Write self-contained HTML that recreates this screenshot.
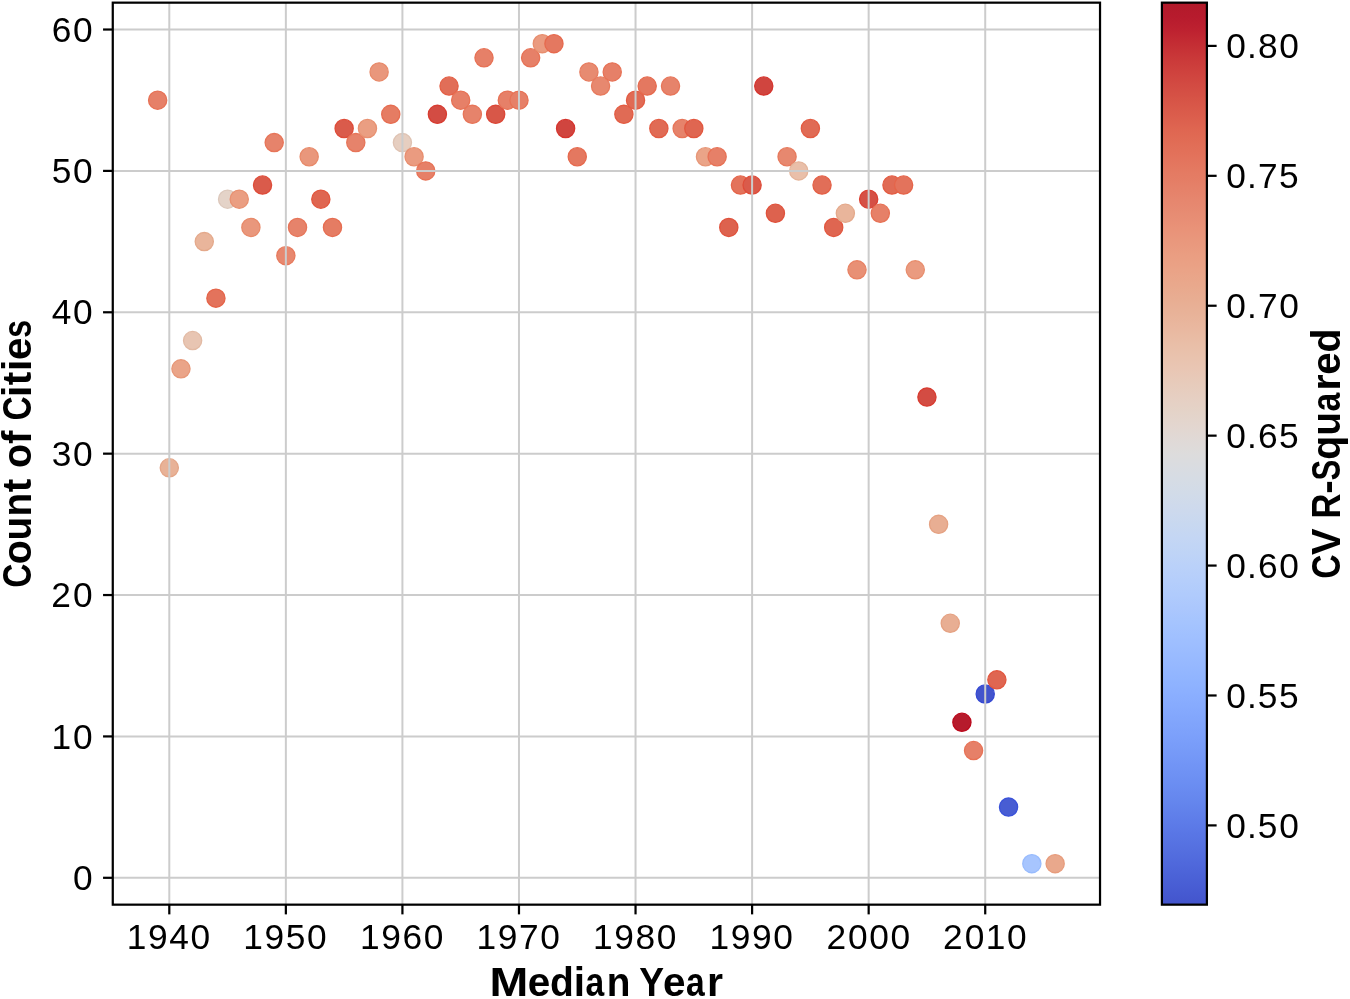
<!DOCTYPE html><html><head><meta charset="utf-8"><style>html,body{margin:0;padding:0;background:#fff;}svg{display:block;will-change:transform;}text{font-family:"Liberation Sans",sans-serif;}</style></head><body>
<svg width="1350" height="999" viewBox="0 0 1350 999">
<rect x="0" y="0" width="1350" height="999" fill="#fff"/>
<g>
<circle cx="157.64" cy="100.21" r="9.10" fill="#e68068" stroke="#e77256" stroke-width="1.3"/>
<circle cx="169.30" cy="467.80" r="9.10" fill="#e8b297" stroke="#e4a688" stroke-width="1.3"/>
<circle cx="180.96" cy="368.83" r="9.10" fill="#eaa488" stroke="#e79778" stroke-width="1.3"/>
<circle cx="192.61" cy="340.56" r="9.10" fill="#e8c5b2" stroke="#e2baa4" stroke-width="1.3"/>
<circle cx="204.27" cy="241.59" r="9.10" fill="#e9b59b" stroke="#e4a98b" stroke-width="1.3"/>
<circle cx="215.92" cy="298.14" r="9.10" fill="#e3735c" stroke="#e5654a" stroke-width="1.3"/>
<circle cx="227.58" cy="199.18" r="9.10" fill="#e4d3c8" stroke="#dcc8bc" stroke-width="1.3"/>
<circle cx="239.24" cy="199.18" r="9.10" fill="#ea9e82" stroke="#e89171" stroke-width="1.3"/>
<circle cx="250.89" cy="227.45" r="9.10" fill="#e9977c" stroke="#e88a6a" stroke-width="1.3"/>
<circle cx="262.55" cy="185.04" r="9.10" fill="#da5b4b" stroke="#de4c39" stroke-width="1.3"/>
<circle cx="274.20" cy="142.62" r="9.10" fill="#e6836b" stroke="#e77559" stroke-width="1.3"/>
<circle cx="285.86" cy="255.73" r="9.10" fill="#e7886f" stroke="#e77a5d" stroke-width="1.3"/>
<circle cx="297.52" cy="227.45" r="9.10" fill="#e6836b" stroke="#e77559" stroke-width="1.3"/>
<circle cx="309.17" cy="156.76" r="9.10" fill="#e9977c" stroke="#e88a6a" stroke-width="1.3"/>
<circle cx="320.83" cy="199.18" r="9.10" fill="#df6651" stroke="#e2573f" stroke-width="1.3"/>
<circle cx="332.48" cy="227.45" r="9.10" fill="#e57c63" stroke="#e66d51" stroke-width="1.3"/>
<circle cx="344.14" cy="128.49" r="9.10" fill="#da5b4b" stroke="#de4c39" stroke-width="1.3"/>
<circle cx="355.80" cy="142.62" r="9.10" fill="#e6836b" stroke="#e77559" stroke-width="1.3"/>
<circle cx="367.45" cy="128.49" r="9.10" fill="#ea9e82" stroke="#e89171" stroke-width="1.3"/>
<circle cx="379.11" cy="71.93" r="9.10" fill="#e9977c" stroke="#e88a6a" stroke-width="1.3"/>
<circle cx="390.76" cy="114.35" r="9.10" fill="#e57c63" stroke="#e66d51" stroke-width="1.3"/>
<circle cx="402.42" cy="142.62" r="9.10" fill="#e6cec0" stroke="#dfc3b3" stroke-width="1.3"/>
<circle cx="414.08" cy="156.76" r="9.10" fill="#ea9b80" stroke="#e88e6e" stroke-width="1.3"/>
<circle cx="425.73" cy="170.90" r="9.10" fill="#e68068" stroke="#e77256" stroke-width="1.3"/>
<circle cx="437.39" cy="114.35" r="9.10" fill="#d34c43" stroke="#d83c31" stroke-width="1.3"/>
<circle cx="449.04" cy="86.07" r="9.10" fill="#e16e58" stroke="#e46046" stroke-width="1.3"/>
<circle cx="460.70" cy="100.21" r="9.10" fill="#e68068" stroke="#e77256" stroke-width="1.3"/>
<circle cx="472.36" cy="114.35" r="9.10" fill="#e6836b" stroke="#e77559" stroke-width="1.3"/>
<circle cx="484.01" cy="57.80" r="9.10" fill="#e68068" stroke="#e77256" stroke-width="1.3"/>
<circle cx="495.67" cy="114.35" r="9.10" fill="#d85748" stroke="#dc4737" stroke-width="1.3"/>
<circle cx="507.32" cy="100.21" r="9.10" fill="#e68068" stroke="#e77256" stroke-width="1.3"/>
<circle cx="518.98" cy="100.21" r="9.10" fill="#e68068" stroke="#e77256" stroke-width="1.3"/>
<circle cx="530.64" cy="57.80" r="9.10" fill="#e68068" stroke="#e77256" stroke-width="1.3"/>
<circle cx="542.29" cy="43.66" r="9.10" fill="#ea9b80" stroke="#e88e6e" stroke-width="1.3"/>
<circle cx="553.95" cy="43.66" r="9.10" fill="#e47860" stroke="#e66a4e" stroke-width="1.3"/>
<circle cx="565.60" cy="128.49" r="9.10" fill="#d0453f" stroke="#d5352e" stroke-width="1.3"/>
<circle cx="577.26" cy="156.76" r="9.10" fill="#e47860" stroke="#e66a4e" stroke-width="1.3"/>
<circle cx="588.92" cy="71.93" r="9.10" fill="#e78b71" stroke="#e77d60" stroke-width="1.3"/>
<circle cx="600.57" cy="86.07" r="9.10" fill="#e7886f" stroke="#e77a5d" stroke-width="1.3"/>
<circle cx="612.23" cy="71.93" r="9.10" fill="#e68068" stroke="#e77256" stroke-width="1.3"/>
<circle cx="623.88" cy="114.35" r="9.10" fill="#e06b55" stroke="#e35c43" stroke-width="1.3"/>
<circle cx="635.54" cy="100.21" r="9.10" fill="#e06b55" stroke="#e35c43" stroke-width="1.3"/>
<circle cx="647.20" cy="86.07" r="9.10" fill="#e47860" stroke="#e66a4e" stroke-width="1.3"/>
<circle cx="658.85" cy="128.49" r="9.10" fill="#e06b55" stroke="#e35c43" stroke-width="1.3"/>
<circle cx="670.51" cy="86.07" r="9.10" fill="#e6836b" stroke="#e77559" stroke-width="1.3"/>
<circle cx="682.16" cy="128.49" r="9.10" fill="#e6836b" stroke="#e77559" stroke-width="1.3"/>
<circle cx="693.82" cy="128.49" r="9.10" fill="#df6651" stroke="#e2573f" stroke-width="1.3"/>
<circle cx="705.48" cy="156.76" r="9.10" fill="#eaa488" stroke="#e79778" stroke-width="1.3"/>
<circle cx="717.13" cy="156.76" r="9.10" fill="#e68068" stroke="#e77256" stroke-width="1.3"/>
<circle cx="728.79" cy="227.45" r="9.10" fill="#dd624e" stroke="#e0523c" stroke-width="1.3"/>
<circle cx="740.44" cy="185.04" r="9.10" fill="#e3735c" stroke="#e5654a" stroke-width="1.3"/>
<circle cx="752.10" cy="185.04" r="9.10" fill="#da5b4b" stroke="#de4c39" stroke-width="1.3"/>
<circle cx="763.76" cy="86.07" r="9.10" fill="#d0453f" stroke="#d5352e" stroke-width="1.3"/>
<circle cx="775.41" cy="213.31" r="9.10" fill="#dd624e" stroke="#e0523c" stroke-width="1.3"/>
<circle cx="787.07" cy="156.76" r="9.10" fill="#e7886f" stroke="#e77a5d" stroke-width="1.3"/>
<circle cx="798.72" cy="170.90" r="9.10" fill="#e9bfa9" stroke="#e4b49a" stroke-width="1.3"/>
<circle cx="810.38" cy="128.49" r="9.10" fill="#e06b55" stroke="#e35c43" stroke-width="1.3"/>
<circle cx="822.04" cy="185.04" r="9.10" fill="#e16e58" stroke="#e46046" stroke-width="1.3"/>
<circle cx="833.69" cy="227.45" r="9.10" fill="#df6651" stroke="#e2573f" stroke-width="1.3"/>
<circle cx="845.35" cy="213.31" r="9.10" fill="#e9b59b" stroke="#e4a98b" stroke-width="1.3"/>
<circle cx="857.00" cy="269.87" r="9.10" fill="#e89075" stroke="#e88264" stroke-width="1.3"/>
<circle cx="868.66" cy="199.18" r="9.10" fill="#d55045" stroke="#da4133" stroke-width="1.3"/>
<circle cx="880.32" cy="213.31" r="9.10" fill="#e68068" stroke="#e77256" stroke-width="1.3"/>
<circle cx="891.97" cy="185.04" r="9.10" fill="#e06b55" stroke="#e35c43" stroke-width="1.3"/>
<circle cx="903.63" cy="185.04" r="9.10" fill="#e3735c" stroke="#e5654a" stroke-width="1.3"/>
<circle cx="915.28" cy="269.87" r="9.10" fill="#ea9b80" stroke="#e88e6e" stroke-width="1.3"/>
<circle cx="926.94" cy="397.11" r="9.10" fill="#d34c43" stroke="#d83c31" stroke-width="1.3"/>
<circle cx="938.60" cy="524.35" r="9.10" fill="#e8ae93" stroke="#e5a283" stroke-width="1.3"/>
<circle cx="950.25" cy="623.32" r="9.10" fill="#e8ae93" stroke="#e5a283" stroke-width="1.3"/>
<circle cx="961.91" cy="722.28" r="9.10" fill="#b61b2c" stroke="#bc0a1d" stroke-width="1.3"/>
<circle cx="973.56" cy="750.56" r="9.10" fill="#e68068" stroke="#e77256" stroke-width="1.3"/>
<circle cx="985.22" cy="694.01" r="9.10" fill="#4354cc" stroke="#3549d3" stroke-width="1.3"/>
<circle cx="996.88" cy="679.87" r="9.10" fill="#df6651" stroke="#e2573f" stroke-width="1.3"/>
<circle cx="1008.53" cy="807.11" r="9.10" fill="#485dd3" stroke="#3a52d9" stroke-width="1.3"/>
<circle cx="1031.84" cy="863.66" r="9.10" fill="#a7c5fe" stroke="#98bbfd" stroke-width="1.3"/>
<circle cx="1055.16" cy="863.66" r="9.10" fill="#e9a88c" stroke="#e79c7c" stroke-width="1.3"/>
</g>
<g stroke="#cccccc" stroke-width="2.00">
<line x1="169.30" y1="2.66" x2="169.30" y2="904.66"/>
<line x1="285.86" y1="2.66" x2="285.86" y2="904.66"/>
<line x1="402.42" y1="2.66" x2="402.42" y2="904.66"/>
<line x1="518.98" y1="2.66" x2="518.98" y2="904.66"/>
<line x1="635.54" y1="2.66" x2="635.54" y2="904.66"/>
<line x1="752.10" y1="2.66" x2="752.10" y2="904.66"/>
<line x1="868.66" y1="2.66" x2="868.66" y2="904.66"/>
<line x1="985.22" y1="2.66" x2="985.22" y2="904.66"/>
<line x1="112.77" y1="877.80" x2="1100.03" y2="877.80"/>
<line x1="112.77" y1="736.42" x2="1100.03" y2="736.42"/>
<line x1="112.77" y1="595.04" x2="1100.03" y2="595.04"/>
<line x1="112.77" y1="453.66" x2="1100.03" y2="453.66"/>
<line x1="112.77" y1="312.28" x2="1100.03" y2="312.28"/>
<line x1="112.77" y1="170.90" x2="1100.03" y2="170.90"/>
<line x1="112.77" y1="29.52" x2="1100.03" y2="29.52"/>
</g>
<g stroke="#000" stroke-width="2.22" fill="none">
<rect x="112.77" y="2.66" width="987.26" height="902.00" stroke-linejoin="miter" stroke-linecap="square"/>
<line x1="169.30" y1="904.66" x2="169.30" y2="914.38"/>
<line x1="285.86" y1="904.66" x2="285.86" y2="914.38"/>
<line x1="402.42" y1="904.66" x2="402.42" y2="914.38"/>
<line x1="518.98" y1="904.66" x2="518.98" y2="914.38"/>
<line x1="635.54" y1="904.66" x2="635.54" y2="914.38"/>
<line x1="752.10" y1="904.66" x2="752.10" y2="914.38"/>
<line x1="868.66" y1="904.66" x2="868.66" y2="914.38"/>
<line x1="985.22" y1="904.66" x2="985.22" y2="914.38"/>
<line x1="103.05" y1="877.80" x2="112.77" y2="877.80"/>
<line x1="103.05" y1="736.42" x2="112.77" y2="736.42"/>
<line x1="103.05" y1="595.04" x2="112.77" y2="595.04"/>
<line x1="103.05" y1="453.66" x2="112.77" y2="453.66"/>
<line x1="103.05" y1="312.28" x2="112.77" y2="312.28"/>
<line x1="103.05" y1="170.90" x2="112.77" y2="170.90"/>
<line x1="103.05" y1="29.52" x2="112.77" y2="29.52"/>
</g>
<g font-size="35.30" fill="#000">
<text x="126.76 148.04 169.35 190.56" y="948.80">1940</text>
<text x="243.32 264.60 285.79 307.12" y="948.80">1950</text>
<text x="359.88 381.16 402.48 423.68" y="948.80">1960</text>
<text x="476.44 497.72 518.97 540.24" y="948.80">1970</text>
<text x="593.00 614.28 635.59 656.80" y="948.80">1980</text>
<text x="709.56 730.84 752.05 773.36" y="948.80">1990</text>
<text x="826.47 848.12 869.32 890.53" y="948.80">2000</text>
<text x="943.03 964.68 985.70 1007.09" y="948.80">2010</text>
<text x="72.99" y="889.95">0</text>
<text x="51.60 72.99" y="748.57">10</text>
<text x="51.34 72.99" y="607.19">20</text>
<text x="51.83 72.99" y="465.81">30</text>
<text x="51.78 72.99" y="324.43">40</text>
<text x="51.65 72.99" y="183.05">50</text>
<text x="51.78 72.99" y="41.67">60</text>
</g>
<defs><linearGradient id="cbg" x1="0" y1="1" x2="0" y2="0">
<stop offset="0.0000" stop-color="#4354cc"/>
<stop offset="0.0156" stop-color="#475bd2"/>
<stop offset="0.0312" stop-color="#4b62d7"/>
<stop offset="0.0469" stop-color="#5069dc"/>
<stop offset="0.0625" stop-color="#5570e0"/>
<stop offset="0.0781" stop-color="#5976e5"/>
<stop offset="0.0938" stop-color="#5e7de9"/>
<stop offset="0.1094" stop-color="#6384ec"/>
<stop offset="0.1250" stop-color="#688af0"/>
<stop offset="0.1406" stop-color="#6d90f3"/>
<stop offset="0.1562" stop-color="#7295f6"/>
<stop offset="0.1719" stop-color="#779bf8"/>
<stop offset="0.1875" stop-color="#7ca0fb"/>
<stop offset="0.2031" stop-color="#81a5fc"/>
<stop offset="0.2188" stop-color="#86aafe"/>
<stop offset="0.2344" stop-color="#8bafff"/>
<stop offset="0.2500" stop-color="#90b4ff"/>
<stop offset="0.2656" stop-color="#96b8ff"/>
<stop offset="0.2812" stop-color="#9bbcff"/>
<stop offset="0.2969" stop-color="#a0c0ff"/>
<stop offset="0.3125" stop-color="#a5c4fe"/>
<stop offset="0.3281" stop-color="#abc7fd"/>
<stop offset="0.3438" stop-color="#b0cbfc"/>
<stop offset="0.3594" stop-color="#b5cefb"/>
<stop offset="0.3750" stop-color="#bad1f9"/>
<stop offset="0.3906" stop-color="#bfd4f6"/>
<stop offset="0.4062" stop-color="#c4d6f4"/>
<stop offset="0.4219" stop-color="#c8d8f0"/>
<stop offset="0.4375" stop-color="#cdd9ed"/>
<stop offset="0.4531" stop-color="#d1dbe9"/>
<stop offset="0.4688" stop-color="#d5dce5"/>
<stop offset="0.4844" stop-color="#d9dce1"/>
<stop offset="0.5000" stop-color="#dddcdc"/>
<stop offset="0.5156" stop-color="#e0d9d6"/>
<stop offset="0.5312" stop-color="#e3d6cf"/>
<stop offset="0.5469" stop-color="#e4d3c8"/>
<stop offset="0.5625" stop-color="#e6cfc2"/>
<stop offset="0.5781" stop-color="#e7cbbb"/>
<stop offset="0.5938" stop-color="#e9c6b4"/>
<stop offset="0.6094" stop-color="#e9c2ad"/>
<stop offset="0.6250" stop-color="#e9bda6"/>
<stop offset="0.6406" stop-color="#e9b79f"/>
<stop offset="0.6562" stop-color="#e8b298"/>
<stop offset="0.6719" stop-color="#e8ad92"/>
<stop offset="0.6875" stop-color="#e9a88c"/>
<stop offset="0.7031" stop-color="#eaa387"/>
<stop offset="0.7188" stop-color="#ea9e82"/>
<stop offset="0.7344" stop-color="#e9987d"/>
<stop offset="0.7500" stop-color="#e99278"/>
<stop offset="0.7656" stop-color="#e78c73"/>
<stop offset="0.7812" stop-color="#e6866e"/>
<stop offset="0.7969" stop-color="#e58068"/>
<stop offset="0.8125" stop-color="#e47a62"/>
<stop offset="0.8281" stop-color="#e3735c"/>
<stop offset="0.8438" stop-color="#e16d56"/>
<stop offset="0.8594" stop-color="#df6651"/>
<stop offset="0.8750" stop-color="#db5d4c"/>
<stop offset="0.8906" stop-color="#d75547"/>
<stop offset="0.9062" stop-color="#d34c43"/>
<stop offset="0.9219" stop-color="#cf433e"/>
<stop offset="0.9375" stop-color="#ca3939"/>
<stop offset="0.9531" stop-color="#c42e34"/>
<stop offset="0.9688" stop-color="#be2230"/>
<stop offset="0.9844" stop-color="#b71b2d"/>
<stop offset="1.0000" stop-color="#b21a2a"/>
</linearGradient></defs>
<rect x="1161.90" y="2.66" width="45.00" height="902.00" fill="url(#cbg)" stroke="#000" stroke-width="2.22"/>
<g stroke="#000" stroke-width="2.22">
<line x1="1206.90" y1="825.40" x2="1216.62" y2="825.40"/>
<line x1="1206.90" y1="695.48" x2="1216.62" y2="695.48"/>
<line x1="1206.90" y1="565.57" x2="1216.62" y2="565.57"/>
<line x1="1206.90" y1="435.65" x2="1216.62" y2="435.65"/>
<line x1="1206.90" y1="305.73" x2="1216.62" y2="305.73"/>
<line x1="1206.90" y1="175.82" x2="1216.62" y2="175.82"/>
<line x1="1206.90" y1="45.90" x2="1216.62" y2="45.90"/>
</g>
<g font-size="35.30" fill="#000">
<text x="1226.18 1246.99 1257.85 1279.19" y="837.55">0.50</text>
<text x="1226.18 1246.99 1257.85 1279.06" y="707.63">0.55</text>
<text x="1226.18 1246.99 1257.98 1279.19" y="577.72">0.60</text>
<text x="1226.18 1246.99 1257.98 1279.06" y="447.80">0.65</text>
<text x="1226.18 1246.99 1257.92 1279.19" y="317.88">0.70</text>
<text x="1226.18 1246.99 1257.92 1279.06" y="187.97">0.75</text>
<text x="1226.18 1246.99 1257.98 1279.19" y="58.05">0.80</text>
</g>
<g font-weight="bold" font-size="40.60" fill="#000">
<text transform="translate(508.80,996.40) scale(1.1481,1)" x="-16.91" y="0">M</text><text transform="translate(539.21,996.40) scale(0.9961,1)" x="-11.39" y="0">e</text><text transform="translate(561.50,996.40) scale(0.9609,1)" x="-11.89" y="0">d</text><text transform="translate(579.39,996.40) scale(1.0000,1)" x="-5.62" y="0">i</text><text transform="translate(595.38,996.40) scale(0.8284,1)" x="-12.01" y="0">a</text><text transform="translate(618.66,996.40) scale(0.9543,1)" x="-12.48" y="0">n</text><text transform="translate(651.77,996.40) scale(0.9164,1)" x="-13.56" y="0">Y</text><text transform="translate(674.36,996.40) scale(0.9961,1)" x="-11.39" y="0">e</text><text transform="translate(696.00,996.40) scale(0.8284,1)" x="-12.01" y="0">a</text><text transform="translate(715.96,996.40) scale(1.0132,1)" x="-8.93" y="0">r</text>
<g transform="rotate(-90)"><text transform="translate(-575.51,31.30) scale(0.8281,1)" x="-14.94" y="0">C</text><text transform="translate(-552.21,31.30) scale(0.9726,1)" x="-12.40" y="0">o</text><text transform="translate(-528.71,31.30) scale(0.9532,1)" x="-12.32" y="0">u</text><text transform="translate(-504.68,31.30) scale(0.9532,1)" x="-12.48" y="0">n</text><text transform="translate(-485.51,31.30) scale(1.0000,1)" x="-6.76" y="0">t</text><text transform="translate(-455.93,31.30) scale(0.9726,1)" x="-12.40" y="0">o</text><text transform="translate(-436.96,31.30) scale(1.0000,1)" x="-7.15" y="0">f</text><text transform="translate(-408.26,31.30) scale(0.8281,1)" x="-14.94" y="0">C</text><text transform="translate(-391.43,31.30) scale(1.0000,1)" x="-5.62" y="0">i</text><text transform="translate(-378.46,31.30) scale(1.0000,1)" x="-6.76" y="0">t</text><text transform="translate(-365.32,31.30) scale(1.0000,1)" x="-5.62" y="0">i</text><text transform="translate(-348.76,31.30) scale(0.9949,1)" x="-11.39" y="0">e</text><text transform="translate(-328.89,31.30) scale(0.7889,1)" x="-11.17" y="0">s</text></g>
<g transform="rotate(-90)"><text transform="translate(-566.29,1340.30) scale(0.8298,1)" x="-14.94" y="0">C</text><text transform="translate(-541.76,1340.30) scale(0.9834,1)" x="-13.54" y="0">V</text><text transform="translate(-505.21,1340.30) scale(0.8497,1)" x="-15.60" y="0">R</text><text transform="translate(-487.06,1340.30) scale(1.0000,1)" x="-6.74" y="0">-</text><text transform="translate(-470.12,1340.30) scale(0.7699,1)" x="-13.33" y="0">S</text><text transform="translate(-448.21,1340.30) scale(0.9647,1)" x="-11.87" y="0">q</text><text transform="translate(-424.03,1340.30) scale(0.9551,1)" x="-12.32" y="0">u</text><text transform="translate(-401.45,1340.30) scale(0.8292,1)" x="-12.01" y="0">a</text><text transform="translate(-381.47,1340.30) scale(1.0141,1)" x="-8.93" y="0">r</text><text transform="translate(-363.35,1340.30) scale(0.9970,1)" x="-11.39" y="0">e</text><text transform="translate(-341.04,1340.30) scale(0.9617,1)" x="-11.89" y="0">d</text></g>
</g>
</svg></body></html>
